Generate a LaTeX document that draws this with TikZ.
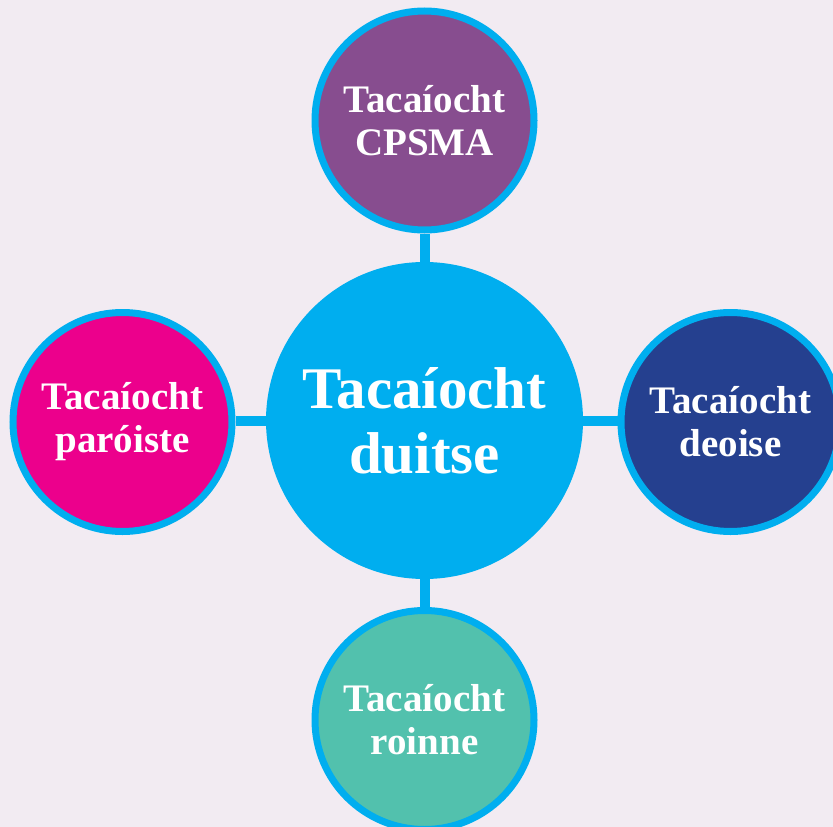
\documentclass[tikz,border=0pt]{standalone}
\usepackage{fontspec}
\setmainfont{Liberation Serif}
\usepackage{tikz}
\usetikzlibrary
  {
    positioning,              % place nodes relative to other nodes
    calc,
  }

\begin{document}
\begin{tikzpicture}
    [
      x=1pt, y=-1pt,
      % Styles
      hub/.style={circle, fill=ringcolor, minimum size=317pt, inner sep=0pt,
        align=center, text=white, font=\fontsize{59}{65}\selectfont\bfseries},
      support/.style={circle, draw=ringcolor, line width=7pt, minimum size=219pt,
        inner sep=0pt, align=center, text=white,
        font=\fontsize{39}{43}\selectfont\bfseries},
      link/.style={draw=ringcolor, line width=10pt}
    ]

    % Colors
    \definecolor{backcolor}{RGB}{242,235,242}
    \definecolor{ringcolor}{RGB}{0,174,239}
    \definecolor{cpsmacolor}{RGB}{135,77,143}
    \definecolor{parishcolor}{RGB}{236,0,140}
    \definecolor{dioceseolor}{RGB}{37,64,143}
    \definecolor{sectioncolor}{RGB}{82,193,173}

    \fill [backcolor] (0,0) rectangle (833,827);
    \useasboundingbox (0,0) rectangle (833,827);

    \node [hub] (duitse) at (424.5,420.5) {Tacaíocht\\duitse};

    \node [support, fill=cpsmacolor]   (cpsma)   at (424.5,120.5) {Tacaíocht\\CPSMA};
    \node [support, fill=parishcolor]  (paroiste) at (122.5,422) {Tacaíocht\\paróiste};
    \node [support, fill=dioceseolor]  (deoise)  at (730.5,422) {Tacaíocht\\deoise};
    \node [support, fill=sectioncolor] (roinne)  at (424.5,720) {Tacaíocht\\roinne};

    % spokes
    \draw [link] (duitse.north) -- (cpsma.south);
    \draw [link] (duitse.south) -- (roinne.north);
    \draw [link] (duitse.west) -- (duitse.west -| paroiste.east);
    \draw [link] (duitse.east) -- (duitse.east -| deoise.west);
  \end{tikzpicture}
\end{document}
